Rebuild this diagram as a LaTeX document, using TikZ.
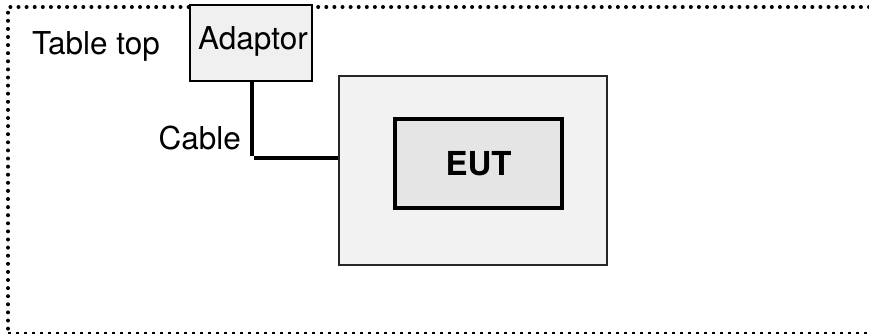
\documentclass[tikz,border=0pt]{standalone}
\usepackage{fontspec}
\setmainfont{TeX Gyre Heros}
\begin{document}
\begin{tikzpicture}[x=1pt,y=-1pt,
  lbl/.style={font=\fontsize{31.5}{34}\selectfont, inner sep=0pt},
  boxA/.style={draw=black, line width=1.8pt, fill=black!6, inner sep=0pt},
  boxD/.style={draw=black!85, line width=1.6pt, fill=black!5, inner sep=0pt},
  boxE/.style={draw=black, line width=3.5pt, fill=black!10, inner sep=0pt, font=\bfseries\fontsize{33}{36}\selectfont},
  cable/.style={line width=3.5pt}]
\useasboundingbox (0,0) rectangle (869,335);
% table top boundary
\coordinate (tl) at (8,7);
\coordinate (tr) at (869,7);
\coordinate (bl) at (8,333);
\coordinate (br) at (869,333);
\draw[line width=4pt, line cap=round, dash pattern=on 0pt off 8.1pt] (tr) -- (tl) -- (bl);
\draw[line width=1.6pt, dash pattern=on 3pt off 5pt] (bl) -- (br);
\node[lbl] (tt) at (96,46) {Table top};
\node[boxA, minimum width=122pt, minimum height=76pt, text depth=0pt] (adaptor) at (251,43) {};
\node[lbl] (adtext) at (253,41) {Adaptor};
\node[boxD, minimum width=268pt, minimum height=189pt] (device) at (473,170.5) {};
\node[boxE, minimum width=167pt, minimum height=89pt] (eut) at (478.5,163.5) {EUT};
\coordinate (cj) at (252,158);
\draw[cable] (adaptor.south -| cj) -- (cj |- 0,156);
\draw[cable] (254,158) -- (cj -| device.west);
\node[lbl, anchor=east] (cablelbl) at (241,138) {Cable};
\end{tikzpicture}
\end{document}
